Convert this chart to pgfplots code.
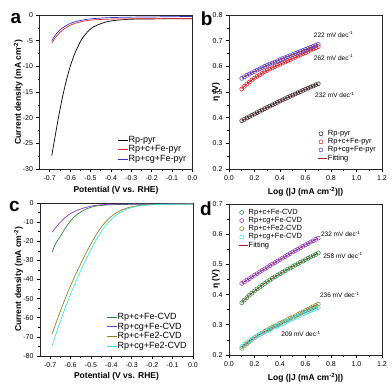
\documentclass[border=0pt]{standalone}
\usepackage{pgfplots}
\pgfplotsset{compat=1.18}
\usepackage{pgfplotstable}
\usepackage{fontspec}
\setmainfont{Liberation Sans}
\definecolor{cred}{RGB}{232,34,42}
\definecolor{cblue}{RGB}{55,50,205}
\definecolor{cblueb}{RGB}{85,60,200}
\definecolor{cfit}{RGB}{175,25,40}
\definecolor{cgreen}{RGB}{35,135,55}
\definecolor{cpurple}{RGB}{135,55,205}
\definecolor{colive}{RGB}{145,130,35}
\definecolor{ccyan}{RGB}{60,230,230}

\pgfplotstableread{
x blk red blu
0.10 0.3880 0.512 0.553
0.12 0.3934 0.522 0.559
0.14 0.3987 0.531 0.565
0.16 0.4040 0.539 0.570
0.18 0.4093 0.547 0.575
0.20 0.4145 0.554 0.580
0.22 0.4197 0.561 0.585
0.24 0.4248 0.567 0.590
0.26 0.4299 0.573 0.595
0.28 0.4350 0.579 0.600
0.30 0.4400 0.584 0.604
0.32 0.4450 0.589 0.609
0.34 0.4499 0.594 0.613
0.36 0.4548 0.599 0.617
0.38 0.4597 0.604 0.621
0.40 0.4645 0.608 0.626
0.42 0.4693 0.613 0.630
0.44 0.4740 0.617 0.634
0.46 0.4787 0.622 0.638
0.48 0.4834 0.626 0.642
0.50 0.4880 0.631 0.646
0.52 0.4926 0.635 0.650
0.54 0.4971 0.640 0.654
0.56 0.5016 0.644 0.658
0.58 0.5061 0.649 0.662
0.60 0.5105 0.653 0.666
0.62 0.5149 0.658 0.670
0.64 0.5192 0.663 0.674
0.66 0.5235 0.667 0.678
0.68 0.5278 0.672 0.682
0.70 0.5320 0.677 0.686
}\tabB

\pgfplotstableread{
x grn pur olv cyn
0.10 0.373 0.437 0.222 0.228
0.12 0.382 0.443 0.230 0.235
0.14 0.390 0.448 0.237 0.241
0.16 0.398 0.453 0.244 0.247
0.18 0.405 0.459 0.251 0.253
0.20 0.412 0.464 0.257 0.258
0.22 0.419 0.469 0.263 0.263
0.24 0.425 0.475 0.268 0.268
0.26 0.431 0.480 0.273 0.272
0.28 0.437 0.485 0.278 0.276
0.30 0.443 0.490 0.283 0.280
0.32 0.448 0.496 0.287 0.284
0.34 0.454 0.501 0.292 0.288
0.36 0.459 0.506 0.296 0.292
0.38 0.464 0.511 0.300 0.296
0.40 0.469 0.516 0.305 0.300
0.42 0.474 0.521 0.309 0.304
0.44 0.479 0.526 0.313 0.308
0.46 0.484 0.531 0.317 0.312
0.48 0.488 0.536 0.322 0.316
0.50 0.493 0.541 0.326 0.320
0.52 0.498 0.546 0.330 0.324
0.54 0.502 0.550 0.334 0.328
0.56 0.507 0.555 0.339 0.332
0.58 0.511 0.560 0.343 0.336
0.60 0.516 0.565 0.347 0.340
0.62 0.520 0.569 0.351 0.343
0.64 0.525 0.574 0.356 0.347
0.66 0.529 0.578 0.360 0.350
0.68 0.533 0.583 0.364 0.354
0.70 0.538 0.587 0.368 0.357
}\tabD

\tikzset{ann/.style={font=\fontsize{6.5}{7}\selectfont}}

\pgfplotsset{
  panel/.style={
    scale only axis, width=153pt, height=154pt, anchor=south west,
    tick align=outside, xtick pos=bottom, ytick pos=left,
    major tick length=3pt, minor tick length=1.6pt,
    minor x tick num=1, minor y tick num=1,
    tick style={line width=0.6pt, black},
    axis line style={line width=0.7pt, black!85},
    tick label style={font=\fontsize{7}{8}\selectfont},
    label style={font=\fontsize{8.5}{10}\selectfont\bfseries},
    /pgf/number format/assume math mode=true,
    legend cell align=left,
  },
  lsv/.style={
    xmin=-0.75, xmax=0, xtick={-0.7,-0.6,...,0.01},
    xticklabel style={/pgf/number format/.cd, fixed, fixed zerofill, precision=1},
    xlabel={Potential (V vs. RHE)},
    ylabel={Current density (mA cm\textsuperscript{-2})},
    legend style={draw=none, fill=none, font=\fontsize{9}{10}\selectfont,
      anchor=south east, row sep=0.3pt, nodes={inner sep=0.8pt}},
  },
  tafel/.style={
    xmin=0, xmax=1.2, xtick={0,0.2,...,1.21},
    xticklabel style={/pgf/number format/.cd, fixed, fixed zerofill, precision=1},
    yticklabel style={/pgf/number format/.cd, fixed, fixed zerofill, precision=1},
    xlabel={Log (|J (mA cm\textsuperscript{-2})|)},
    ylabel={η (V)},
    legend style={draw=none, fill=none, font=\fontsize{7.5}{8}\selectfont,
      row sep=0.2pt, nodes={inner sep=0.6pt}},
  },
  ln/.style={line width=0.7pt, smooth, no marks,
    legend image code/.code={\draw[##1] (0pt,0pt) -- (10pt,0pt);}},
  dots/.style={only marks, mark=o, mark size=2pt, mark options={line width=0.55pt},
    legend image code/.code={\draw[##1] plot coordinates {(3pt,0pt)};}},
  fit/.style={cfit, line width=0.7pt, no marks,
    legend image code/.code={\draw[##1, cfit, line width=0.8pt] (0pt,0pt) -- (9pt,0pt);}},
}

\begin{document}
\begin{tikzpicture}
\path[use as bounding box] (0,0) rectangle (392pt,389pt);

% ---------- panel a ----------
\begin{axis}[panel, lsv, at={(39.5pt,220pt)},
  ymin=-30, ymax=0, ytick={-30,-25,...,0},
  xlabel style={at={(axis description cs:0.5,-0.136)}, anchor=center},
  ylabel style={at={(axis description cs:-0.139,0.5)}, anchor=center},
  legend style={at={(0.985,0.02)}}]
\addplot[black, ln] coordinates {
(-0.69,-27.4) (-0.675,-24.0) (-0.66,-20.6) (-0.645,-17.5) (-0.634,-15.4)
(-0.62,-13.0) (-0.60,-10.1) (-0.58,-7.8) (-0.567,-6.6) (-0.55,-5.2)
(-0.534,-4.2) (-0.51,-3.1) (-0.485,-2.3) (-0.45,-1.7) (-0.418,-1.3)
(-0.38,-1.05) (-0.318,-0.85) (-0.25,-0.78) (-0.15,-0.75) (0,-0.72)};
\addlegendentry{Rp-pyr}
\addplot[cred, ln] coordinates {
(-0.69,-5.5) (-0.67,-4.3) (-0.65,-3.4) (-0.625,-2.6) (-0.60,-2.0)
(-0.57,-1.55) (-0.534,-1.2) (-0.50,-1.0) (-0.45,-0.87) (-0.40,-0.8)
(-0.3,-0.75) (-0.2,-0.72) (-0.1,-0.7) (0,-0.65)};
\addlegendentry{Rp+c+Fe-pyr}
\addplot[cblue, ln] coordinates {
(-0.69,-5.0) (-0.67,-3.8) (-0.65,-2.9) (-0.625,-2.2) (-0.60,-1.65)
(-0.57,-1.25) (-0.534,-0.95) (-0.50,-0.75) (-0.45,-0.6) (-0.40,-0.5)
(-0.3,-0.42) (-0.2,-0.38) (-0.1,-0.33) (0,-0.28)};
\addlegendentry{Rp+cg+Fe-pyr}
\end{axis}

% ---------- panel b ----------
\begin{axis}[panel, tafel, at={(229pt,220pt)},
  ymin=0.2, ymax=0.8, ytick={0.2,0.3,...,0.81},
  xlabel style={at={(axis description cs:0.5,-0.147)}, anchor=center},
  ylabel style={at={(axis description cs:-0.085,0.5)}, anchor=center},
  legend style={at={(0.985,0.03)}, anchor=south east}]
\addplot[dots, black!85] table[x=x, y=blk] {\tabB};
\addlegendentry{Rp-pyr}
\addplot[dots, cred] table[x=x, y=red] {\tabB};
\addlegendentry{Rp+c+Fe-pyr}
\addplot[dots, cblueb] table[x=x, y=blu] {\tabB};
\addlegendentry{Rp+cg+Fe-pyr}
\addplot[fit] table[x=x, y=blk] {\tabB};
\addlegendentry{Fitting}
\addplot[fit, forget plot] table[x=x, y=red] {\tabB};
\addplot[fit, forget plot] table[x=x, y=blu] {\tabB};
\node[ann] at (axis cs:0.82,0.725) {222 mV dec\textsuperscript{-1}};
\node[ann] at (axis cs:0.82,0.635) {262 mV dec\textsuperscript{-1}};
\node[ann] at (axis cs:0.83,0.488) {232 mV dec\textsuperscript{-1}};
\end{axis}

% ---------- panel c ----------
\begin{axis}[panel, lsv, at={(40pt,33pt)}, height=153pt,
  ymin=-80, ymax=0, ytick={-80,-70,...,0},
  xlabel style={at={(axis description cs:0.5,-0.135)}, anchor=center},
  ylabel style={at={(axis description cs:-0.14,0.5)}, anchor=center},
  legend style={at={(0.985,0.02)}}]
\addplot[cgreen, ln] coordinates {
(-0.69,-25.6) (-0.675,-21.5) (-0.651,-17.6) (-0.625,-13.0) (-0.60,-9.3)
(-0.575,-6.6) (-0.55,-4.7) (-0.52,-3.0) (-0.485,-1.8) (-0.44,-1.2)
(-0.40,-0.9) (-0.3,-0.7) (-0.2,-0.6) (0,-0.5)};
\addlegendentry{Rp+c+Fe-CVD}
\addplot[cpurple, ln] coordinates {
(-0.69,-15.2) (-0.665,-11.8) (-0.634,-8.3) (-0.61,-6.2) (-0.584,-4.6)
(-0.55,-3.1) (-0.517,-2.1) (-0.48,-1.3) (-0.435,-0.8) (-0.38,-0.6)
(-0.3,-0.5) (0,-0.4)};
\addlegendentry{Rp+cg+Fe-CVD}
\addplot[colive, ln] coordinates {
(-0.69,-68.4) (-0.67,-62.3) (-0.65,-56.5) (-0.625,-49.6) (-0.60,-43.2)
(-0.575,-37.3) (-0.55,-31.7) (-0.525,-26.3) (-0.50,-21.3) (-0.475,-16.7)
(-0.45,-12.7) (-0.425,-9.5) (-0.40,-7.0) (-0.375,-5.1) (-0.35,-3.7)
(-0.32,-2.5) (-0.287,-1.7) (-0.25,-1.15) (-0.2,-0.8) (-0.1,-0.6) (0,-0.5)};
\addlegendentry{Rp+c+Fe2-CVD}
\addplot[ccyan, ln] coordinates {
(-0.69,-74.5) (-0.67,-68.0) (-0.65,-61.8) (-0.625,-54.5) (-0.60,-47.6)
(-0.575,-41.3) (-0.55,-35.3) (-0.525,-29.6) (-0.50,-24.3) (-0.475,-19.4)
(-0.45,-15.0) (-0.425,-11.4) (-0.40,-8.5) (-0.375,-6.2) (-0.35,-4.5)
(-0.32,-3.0) (-0.287,-2.0) (-0.25,-1.3) (-0.2,-0.9) (-0.1,-0.65) (0,-0.55)};
\addlegendentry{Rp+cg+Fe2-CVD}
\end{axis}

% ---------- panel d ----------
\begin{axis}[panel, tafel, at={(229pt,34pt)}, height=151pt,
  ymin=0.2, ymax=0.7, ytick={0.2,0.3,...,0.71},
  xlabel style={at={(axis description cs:0.5,-0.154)}, anchor=center},
  ylabel style={at={(axis description cs:-0.085,0.5)}, anchor=center},
  legend style={at={(0.04,0.985)}, anchor=north west}]
\addplot[dots, cgreen] table[x=x, y=grn] {\tabD};
\addlegendentry{Rp+c+Fe-CVD}
\addplot[dots, cpurple] table[x=x, y=pur] {\tabD};
\addlegendentry{Rp+cg+Fe-CVD}
\addplot[dots, colive] table[x=x, y=olv] {\tabD};
\addlegendentry{Rp+c+Fe2-CVD}
\addplot[dots, ccyan] table[x=x, y=cyn] {\tabD};
\addlegendentry{Rp+cg+Fe-CVD}
\addplot[fit] table[x=x, y=grn] {\tabD};
\addlegendentry{Fitting}
\addplot[fit, forget plot] table[x=x, y=pur] {\tabD};
\addplot[fit, forget plot] table[x=x, y=olv] {\tabD};
\addplot[fit, forget plot] table[x=x, y=cyn] {\tabD};
\node[ann] at (axis cs:0.876,0.600) {232 mV dec\textsuperscript{-1}};
\node[ann] at (axis cs:0.894,0.529) {258 mV dec\textsuperscript{-1}};
\node[ann] at (axis cs:0.868,0.399) {236 mV dec\textsuperscript{-1}};
\node[ann] at (axis cs:0.565,0.270) {209 mV dec\textsuperscript{-1}};
\end{axis}

\node[font=\fontsize{19}{20}\selectfont\bfseries] at (16pt,371pt) {a};
\node[font=\fontsize{19}{20}\selectfont\bfseries] at (206.8pt,370pt) {b};
\node[font=\fontsize{19}{20}\selectfont\bfseries] at (14.5pt,182.3pt) {c};
\node[font=\fontsize{19}{20}\selectfont\bfseries] at (206pt,180pt) {d};
\end{tikzpicture}
\end{document}
